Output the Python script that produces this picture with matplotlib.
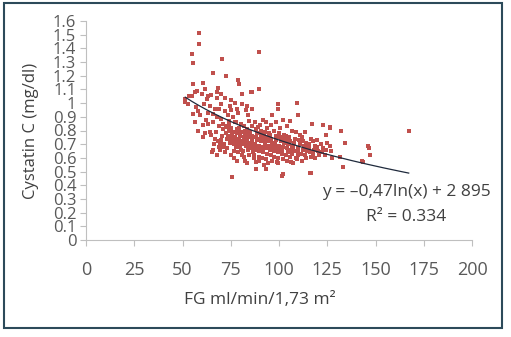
import numpy as np
import matplotlib
matplotlib.use("Agg")
import matplotlib.pyplot as plt
from matplotlib.patches import Rectangle

plt.rcParams['font.family'] = ['Open Sans', 'DejaVu Sans']

# high outliers
gfr_high = [58.5, 58.6, 54.7, 55.5, 89.4, 70.6, 65.6, 72.5, 79.0, 79.2, 55.4, 60.4, 68.5, 80.7, 85.6, 89.4]
cys_high = [1.51, 1.43, 1.36, 1.29, 1.375, 1.32, 1.22, 1.20, 1.17, 1.14, 1.14, 1.15, 1.11, 1.07, 1.08, 1.10]

# upper left cloud
gfr_upper = [51.4, 51.5, 53.5, 53.0, 54.7, 56.4, 59.9, 63.3, 67.7, 70.2,
             64.2, 66.8, 70.2, 74.5, 72.0, 58.1, 59.0, 67.7, 70.2, 73.7,
             56.4, 60.7, 63.3, 64.2, 65.0, 60.7, 72.8,
             57.5, 61.5, 62.5, 65.0, 68.0, 72.0, 75.0, 77.0,
             61.0, 63.0, 66.0, 69.0, 75.0, 78.0, 57.0, 62.0, 55.5,
             58.0, 61.5, 66.0, 69.0, 76.0, 79.0, 81.0, 83.0, 84.0,
             71.0, 74.0, 77.0]
cys_upper = [1.03, 1.01, 1.05, 0.995, 1.055, 1.08, 1.07, 1.055, 1.04, 1.07,
             0.98, 0.96, 0.995, 0.98, 0.946, 0.946, 0.91, 0.90, 0.887, 0.91,
             0.86, 0.837, 0.85, 0.79, 0.764, 0.75, 0.825,
             1.09, 1.10, 1.03, 1.06, 1.08, 1.04, 1.02, 1.0,
             0.99, 0.93, 0.92, 0.96, 0.95, 0.96, 0.97, 0.88, 0.92,
             0.80, 0.78, 0.86, 0.83, 0.9, 0.93, 0.99, 0.95, 0.91,
             0.85, 0.87, 0.86]

# dense core
gfr_core = [66.3, 65.7, 66.8,
            68.2, 67.6, 68.9, 67.9,
            70.4, 69.6, 70.9, 69.3, 70.1,
            72.3, 71.5, 72.8, 71.9, 72.6, 71.2,
            74.1, 73.6, 74.7, 73.3, 74.4, 73.9, 74.9,
            76.2, 75.5, 76.8, 75.8, 76.5, 75.3, 76.0, 76.9,
            78.1, 77.4, 78.7, 77.8, 78.4, 77.2, 78.9, 77.6, 78.3,
            80.3, 79.5, 80.8, 79.8, 80.5, 79.3, 80.1, 80.9, 79.7, 80.4,
            82.2, 81.6, 82.7, 81.9, 82.4, 81.3, 82.9, 81.7, 82.1, 82.6,
            84.3, 83.5, 84.8, 83.8, 84.1, 83.3, 84.6, 83.9, 84.4, 83.6,
            86.1, 85.4, 86.7, 85.8, 86.4, 85.2, 86.9, 85.6, 86.2, 85.9,
            88.2, 87.5, 88.8, 87.7, 88.4, 87.3, 88.6, 87.9, 88.1, 87.6,
            90.3, 89.6, 90.7, 89.8, 90.5, 89.4, 90.1, 90.9, 89.7, 90.2,
            92.1, 91.5, 92.8, 91.7, 92.4, 91.3, 92.6, 91.9, 92.2, 91.6,
            94.2, 93.6, 94.7, 93.8, 94.4, 93.3, 94.9, 93.7, 94.1,
            96.3, 95.5, 96.8, 95.7, 96.1, 95.3, 96.6, 95.9, 96.4,
            98.1, 97.6, 98.7, 97.4, 98.3, 97.8, 98.9, 97.5, 98.5,
            100.2, 99.6, 100.8, 99.4, 100.5, 99.8, 100.1, 99.3, 100.7,
            102.3, 101.6, 102.7, 101.8, 102.1, 101.4, 102.5, 101.9,
            104.1, 103.5, 104.8, 103.7, 104.3, 103.4, 104.6, 103.9,
            106.2, 105.6, 106.7, 105.8, 106.4, 105.3, 106.9,
            108.3, 107.5, 108.8, 107.7, 108.1, 107.4, 108.6,
            110.1, 109.6, 110.7, 109.4, 110.4, 109.8, 110.9,
            112.2, 111.5, 112.8, 111.7, 112.4, 111.9,
            114.3, 113.6, 114.7, 113.8, 114.1,
            116.1, 115.5, 116.8, 115.7, 116.4,
            118.2, 117.6, 118.7, 117.4, 118.5,
            120.3, 119.6, 120.8, 119.8,
            122.1, 121.6, 122.7,
            124.2, 123.7, 124.8,
            127.1, 126.5, 127.6]
cys_core = [0.70, 0.66, 0.74,
            0.72, 0.79, 0.68, 0.62,
            0.76, 0.71, 0.81, 0.66, 0.73,
            0.78, 0.70, 0.74, 0.64, 0.83, 0.68,
            0.80, 0.76, 0.71, 0.67, 0.73, 0.84, 0.62,
            0.79, 0.74, 0.70, 0.77, 0.65, 0.82, 0.72, 0.60,
            0.81, 0.75, 0.71, 0.68, 0.78, 0.73, 0.64, 0.86, 0.58,
            0.79, 0.74, 0.70, 0.76, 0.66, 0.82, 0.72, 0.62, 0.68, 0.85,
            0.77, 0.72, 0.69, 0.75, 0.80, 0.65, 0.71, 0.61, 0.83, 0.58,
            0.78, 0.73, 0.70, 0.66, 0.75, 0.81, 0.62, 0.68, 0.87, 0.56,
            0.76, 0.71, 0.69, 0.74, 0.64, 0.79, 0.60, 0.67, 0.83, 0.72,
            0.75, 0.70, 0.73, 0.66, 0.78, 0.62, 0.68, 0.81, 0.57, 0.86,
            0.74, 0.69, 0.72, 0.65, 0.77, 0.61, 0.67, 0.80, 0.58, 0.84,
            0.73, 0.68, 0.70, 0.64, 0.76, 0.60, 0.79, 0.66, 0.55, 0.88,
            0.72, 0.67, 0.69, 0.63, 0.75, 0.59, 0.78, 0.82, 0.56,
            0.71, 0.66, 0.68, 0.62, 0.74, 0.77, 0.58, 0.84, 0.91,
            0.70, 0.65, 0.73, 0.61, 0.76, 0.67, 0.57, 0.80, 0.86,
            0.69, 0.64, 0.72, 0.60, 0.75, 0.66, 0.78, 0.56, 0.82,
            0.68, 0.63, 0.71, 0.74, 0.59, 0.66, 0.77, 0.88,
            0.67, 0.62, 0.70, 0.73, 0.58, 0.76, 0.64, 0.83,
            0.66, 0.61, 0.69, 0.72, 0.57, 0.75, 0.63,
            0.65, 0.68, 0.60, 0.71, 0.74, 0.56, 0.79,
            0.64, 0.67, 0.70, 0.59, 0.73, 0.62, 0.77,
            0.66, 0.63, 0.69, 0.58, 0.72, 0.75,
            0.65, 0.62, 0.68, 0.71, 0.60,
            0.64, 0.67, 0.61, 0.70, 0.74,
            0.66, 0.63, 0.69, 0.72, 0.60,
            0.65, 0.68, 0.62, 0.73,
            0.64, 0.70, 0.67,
            0.66, 0.62, 0.71,
            0.65, 0.69, 0.60]

# right tail and low points
gfr_tail = [99.5, 99.5, 109.4, 109.9, 105.6, 117.3, 122.8, 106.5, 113.4, 124.6,
            126.6, 132.3, 167.2, 134.4, 131.5, 146.7, 147.0, 143.0, 133.2, 116.8,
            75.4, 102.1, 101.8, 115.9, 88.3, 93.5, 65.4, 143.5, 146.1, 126.2,
            83.2, 85.8, 85.8, 89.2, 93.5]
cys_tail = [0.995, 0.96, 1.0, 0.91, 0.873, 0.85, 0.837, 0.80, 0.79, 0.764,
            0.825, 0.80, 0.795, 0.71, 0.61, 0.67, 0.62, 0.58, 0.53, 0.49,
            0.46, 0.485, 0.466, 0.49, 0.522, 0.522, 0.643, 0.57, 0.684, 0.82,
            0.98, 0.96, 1.08, 0.825, 0.86]

# log trendline from the chart
trend_a = -0.47
trend_b = 2.895

x_ticks = [0, 25, 50, 75, 100, 125, 150, 175, 200]
y_ticks = [i / 10 for i in range(17)]

gfr = np.array(gfr_high + gfr_upper + gfr_core + gfr_tail)
cys = np.array(cys_high + cys_upper + cys_core + cys_tail)

fig = plt.figure(figsize=(5.11, 3.37), dpi=100)
ax = fig.add_axes([86 / 511, 97 / 337, 386 / 511, 219 / 337])

ax.scatter(gfr, cys, marker='s', s=11, color='#c0504d', linewidths=0, zorder=3)

xt = np.linspace(gfr.min(), gfr.max(), 200)
ax.plot(xt, trend_a * np.log(xt) + trend_b, color='#1f2a3c', lw=0.9, zorder=4)

ax.set_xlim(0, 200)
ax.set_ylim(0, 1.6)
ax.set_xticks(x_ticks)
ax.set_xticklabels([str(v) for v in x_ticks])
ax.set_yticks(y_ticks)
ax.set_yticklabels([f"{v:g}" for v in y_ticks])

for side in ['top', 'right']:
    ax.spines[side].set_visible(False)
for side in ['left', 'bottom']:
    ax.spines[side].set_color('#bfbfbf')
    ax.spines[side].set_linewidth(0.8)

ax.tick_params(axis='x', colors='#bfbfbf', labelcolor='#595959', labelsize=13,
               length=4, pad=11)
ax.tick_params(axis='y', colors='#bfbfbf', labelcolor='#595959', labelsize=12,
               length=4, pad=3)

ax.set_ylabel('Cystatin C (mg/dl)', fontsize=12, color='#404040', labelpad=10)
fig.text(260 / 511, 1 - 300 / 337, 'FG ml/min/1,73 m\u00b2', fontsize=12.5,
         color='#404040', ha='center', va='center')

fig.text(406 / 511, 1 - 192 / 337, 'y = \u20130,47ln(x) + 2 895', fontsize=12.5,
         color='#404040', ha='center', va='center')
fig.text(406 / 511, 1 - 217 / 337, 'R\u00b2 = 0.334', fontsize=12.5,
         color='#404040', ha='center', va='center')

fig.patches.append(Rectangle((4 / 511, 1 - 328 / 337), 498 / 511, 325 / 337,
                             fill=False, edgecolor='#2c4a5a', lw=1.5,
                             transform=fig.transFigure, figure=fig))

fig.savefig('out.png', dpi=100)
